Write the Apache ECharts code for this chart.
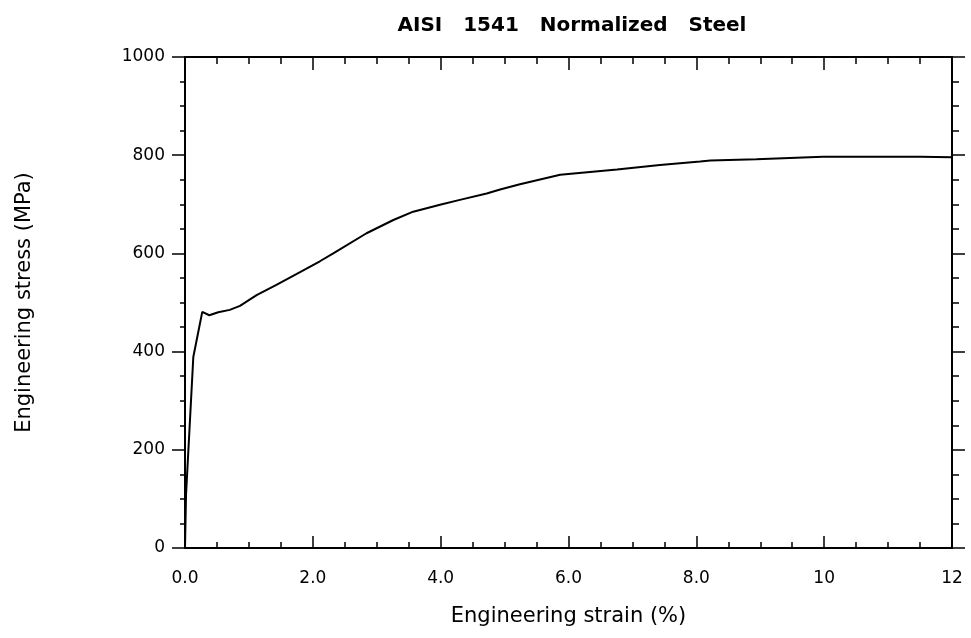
<!DOCTYPE html>
<html>
<head>
<meta charset="utf-8">
<script src="https://cdn.jsdelivr.net/npm/echarts@6/dist/echarts.min.js"></script>
<style>html,body{margin:0;padding:0;background:#fff}#c{width:971px;height:638px}</style>
</head>
<body>
<div id="c"></div>
<script>
const titleText = 'AISI   1541   Normalized   Steel';
const xName = 'Engineering strain (%)';
const yName = 'Engineering stress (MPa)';
const strain = [0, 0.016, 0.13, 0.27, 0.38, 0.52, 0.70, 0.86, 1.12, 1.43, 1.80, 2.11, 2.32, 2.84, 3.26, 3.57, 3.99, 4.30, 4.72, 4.93, 5.24, 5.87, 6.76, 7.43, 8.06, 8.22, 8.94, 9.98, 11.5, 12.0];
const stress = [0, 108, 389, 481, 474, 480, 485, 493, 515, 536, 562, 584, 600, 641, 668, 685, 699, 709, 722, 730, 741, 760, 771, 780, 787, 789, 792, 797, 797, 796];
const xTickLabels = ['0.0', '2.0', '4.0', '6.0', '8.0', '10', '12'];
const yTickLabels = ['0', '200', '400', '600', '800', '1000'];

const font = '"DejaVu Sans", Verdana, sans-serif';
const chart = echarts.init(document.getElementById('c'));
const axisLine = {show: true, onZero: false, lineStyle: {color: '#000', width: 2}};
const xBase = {type: 'value', min: 0, max: 12, interval: 2, splitLine: {show: false}};
const yBase = {type: 'value', min: 0, max: 1000, interval: 200, splitLine: {show: false}};
chart.setOption({
  animation: false,
  backgroundColor: '#fff',
  title: {text: titleText, left: 567, top: 11, textAlign: 'center',
    textStyle: {fontFamily: font, fontSize: 20, fontWeight: 'bold', color: '#000'}},
  grid: {left: 185, right: 19, top: 57, bottom: 90},
  xAxis: [
    Object.assign({}, xBase, {position: 'bottom', axisLine: axisLine,
      axisTick: {show: true, inside: true, length: 12, lineStyle: {color: '#000', width: 1.5}},
      minorTick: {show: true, splitNumber: 4, length: 6, lineStyle: {color: '#000', width: 1.5}},
      axisLabel: {margin: 22, fontFamily: font, fontSize: 17, color: '#000',
        formatter: (v) => xTickLabels[Math.round(v / 2)]},
      name: xName, nameLocation: 'middle', nameGap: 58,
      nameTextStyle: {fontFamily: font, fontSize: 21, color: '#000'}}),
    Object.assign({}, xBase, {position: 'top', axisLine: axisLine,
      axisTick: {show: true, inside: true, length: 13, lineStyle: {color: '#000', width: 1.5}},
      minorTick: {show: true, splitNumber: 4, length: 7, lineStyle: {color: '#000', width: 1.5}},
      axisLabel: {show: false}})
  ],
  yAxis: [
    Object.assign({}, yBase, {position: 'left', axisLine: axisLine,
      axisTick: {show: true, inside: false, length: 13, lineStyle: {color: '#000', width: 1.5}},
      minorTick: {show: true, splitNumber: 4, length: 5, lineStyle: {color: '#000', width: 1.5}},
      axisLabel: {margin: 20, fontFamily: font, fontSize: 17, color: '#000',
        formatter: (v) => yTickLabels[Math.round(v / 200)]},
      name: yName, nameLocation: 'middle', nameGap: 150,
      nameTextStyle: {fontFamily: font, fontSize: 21, color: '#000'}}),
    Object.assign({}, yBase, {position: 'right', axisLine: axisLine,
      axisTick: {show: true, inside: false, length: 13, lineStyle: {color: '#000', width: 1.5}},
      minorTick: {show: true, splitNumber: 4, length: 7, lineStyle: {color: '#000', width: 1.5}},
      axisLabel: {show: false}})
  ],
  series: [{
    type: 'line', xAxisIndex: 0, yAxisIndex: 0,
    data: strain.map((s, i) => [s, stress[i]]),
    showSymbol: false, symbol: 'none', smooth: false,
    lineStyle: {color: '#000', width: 2}
  }]
});
</script>
</body>
</html>
